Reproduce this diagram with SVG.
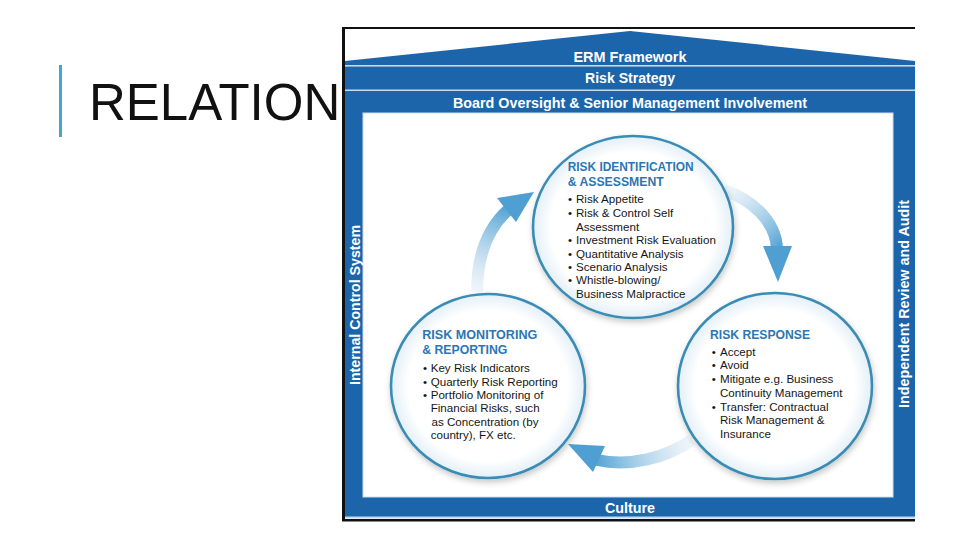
<svg xmlns="http://www.w3.org/2000/svg" width="960" height="540" viewBox="0 0 960 540">
  <style>
    .band { font-family: "Liberation Sans", Arial, sans-serif; font-weight: bold; font-size: 14px; fill: #ffffff; text-anchor: middle; }
    .head { font-family: "Liberation Sans", Arial, sans-serif; font-weight: bold; font-size: 12.5px; fill: #2b76b4; }
    .body { font-family: "Liberation Sans", Arial, sans-serif; font-size: 11.6px; fill: #151515; }
    .circle { fill: url(#cfill); stroke: #3a8cb4; stroke-width: 2.6; filter: url(#shadow); }
    .sep { fill: #c4dcf0; }
  </style>
  <defs>
    <radialGradient id="cfill" cx="0.5" cy="0.5" r="0.5">
      <stop offset="0.82" stop-color="#ffffff"/>
      <stop offset="1" stop-color="#e3eff7"/>
    </radialGradient>
    <filter id="shadow" x="-20%" y="-20%" width="140%" height="140%">
      <feDropShadow dx="1" dy="3" stdDeviation="3" flood-color="#000000" flood-opacity="0.22"/>
    </filter>
    <linearGradient id="g1" gradientUnits="userSpaceOnUse" x1="477" y1="292" x2="506" y2="210">
      <stop offset="0" stop-color="#dbe9f4" stop-opacity="0.4"/>
      <stop offset="1" stop-color="#5aa6d6"/>
    </linearGradient>
    <linearGradient id="g2" gradientUnits="userSpaceOnUse" x1="724" y1="190" x2="777" y2="247">
      <stop offset="0" stop-color="#dbe9f4" stop-opacity="0.4"/>
      <stop offset="1" stop-color="#5aa6d6"/>
    </linearGradient>
    <linearGradient id="g3" gradientUnits="userSpaceOnUse" x1="692" y1="440" x2="598" y2="459">
      <stop offset="0" stop-color="#dbe9f4" stop-opacity="0.4"/>
      <stop offset="1" stop-color="#5aa6d6"/>
    </linearGradient>
  </defs>

  <rect x="0" y="0" width="960" height="540" fill="#ffffff"/>

  <!-- slide title -->
  <g id="title">
    <rect x="59" y="65" width="3" height="72" fill="#41a6d4"/>
    <text x="89" y="120" font-family="'Liberation Sans', Arial, sans-serif" font-size="51" fill="#111111">RELATION</text>
  </g>

  <!-- frame -->
  <g id="frame">
    <rect x="342" y="27" width="573" height="2" fill="#111111"/>
    <rect x="342" y="27" width="3" height="494" fill="#111111"/>
    <rect x="342" y="519" width="573" height="2.5" fill="#111111"/>
    <polygon points="345,61 630,31 915,61 915,65 345,65" fill="#1c65ab"/>
    <rect class="sep" x="345" y="65" width="570" height="1.5"/>
    <rect x="345" y="66.5" width="570" height="450.5" fill="#1c65ab"/>
    <rect class="sep" x="345" y="89.5" width="570" height="1.5"/>
    <rect class="sep" x="345" y="516.5" width="570" height="2"/>
    <rect x="363" y="113" width="530" height="384" fill="#ffffff" stroke="#c9def0" stroke-width="1"/>
  </g>

  <g id="erm-framework"><text class="band" x="630" y="62" textLength="113" lengthAdjust="spacingAndGlyphs">ERM Framework</text></g>
  <g id="risk-strategy"><text class="band" x="630" y="83" textLength="90" lengthAdjust="spacingAndGlyphs">Risk Strategy</text></g>
  <g id="board-oversight"><text class="band" x="630" y="108" textLength="354" lengthAdjust="spacingAndGlyphs">Board Oversight &amp; Senior Management Involvement</text></g>
  <g id="culture"><text class="band" x="630" y="513" textLength="50" lengthAdjust="spacingAndGlyphs">Culture</text></g>
  <g id="internal-control"><text class="band" transform="translate(360,305) rotate(-90)" x="0" y="0" textLength="160" lengthAdjust="spacingAndGlyphs">Internal Control System</text></g>
  <g id="independent-review"><text class="band" transform="translate(909,304) rotate(-90)" x="0" y="0" textLength="208" lengthAdjust="spacingAndGlyphs">Independent Review and Audit</text></g>

  <!-- connectors -->
  <g id="connectors">
    <path d="M 477 292 C 477 260 486 230 508 210" fill="none" stroke="url(#g1)" stroke-width="12"/>
    <polygon points="534,192 497,198 516,222" fill="#4f9fd2"/>
    <path d="M 724 190 C 752 200 775 220 777 248" fill="none" stroke="url(#g2)" stroke-width="12"/>
    <polygon points="778,282 763,246 792,246" fill="#4f9fd2"/>
    <path d="M 692 440 C 666 458 630 467 597 460" fill="none" stroke="url(#g3)" stroke-width="12"/>
    <polygon points="568,444 605,446 593,472" fill="#4f9fd2"/>
  </g>

  <!-- nodes -->
  <g id="risk-identification">
    <ellipse class="circle" cx="633" cy="227" rx="100" ry="91"/>
    <text class="head" x="567.7" y="170.7" textLength="126" lengthAdjust="spacingAndGlyphs">RISK IDENTIFICATION</text>
    <text class="head" x="567.7" y="186" textLength="96" lengthAdjust="spacingAndGlyphs">&amp; ASSESSMENT</text>
    <text class="body" x="568" y="203.3">•</text><text class="body" x="576" y="203.3">Risk Appetite</text>
    <text class="body" x="568" y="217.3">•</text><text class="body" x="576" y="217.3">Risk &amp; Control Self</text>
    <text class="body" x="576" y="230.6">Assessment</text>
    <text class="body" x="568" y="244">•</text><text class="body" x="576" y="244">Investment Risk Evaluation</text>
    <text class="body" x="568" y="257.7">•</text><text class="body" x="576" y="257.7">Quantitative Analysis</text>
    <text class="body" x="568" y="270.9">•</text><text class="body" x="576" y="270.9">Scenario Analysis</text>
    <text class="body" x="568" y="284.3">•</text><text class="body" x="576" y="284.3">Whistle-blowing/</text>
    <text class="body" x="576" y="298">Business Malpractice</text>
  </g>

  <g id="risk-monitoring">
    <ellipse class="circle" cx="488" cy="386" rx="97" ry="92"/>
    <text class="head" x="422.3" y="339" textLength="115" lengthAdjust="spacingAndGlyphs">RISK MONITORING</text>
    <text class="head" x="422.3" y="354" textLength="85" lengthAdjust="spacingAndGlyphs">&amp; REPORTING</text>
    <text class="body" x="423" y="372.3">•</text><text class="body" x="430.7" y="372.3">Key Risk Indicators</text>
    <text class="body" x="423" y="385.7">•</text><text class="body" x="430.7" y="385.7">Quarterly Risk Reporting</text>
    <text class="body" x="423" y="399">•</text><text class="body" x="430.7" y="399">Portfolio Monitoring of</text>
    <text class="body" x="430.7" y="412.3">Financial Risks, such</text>
    <text class="body" x="431.5" y="425.7">as Concentration (by</text>
    <text class="body" x="430.7" y="439">country), FX etc.</text>
  </g>

  <g id="risk-response">
    <ellipse class="circle" cx="775" cy="386" rx="97" ry="93"/>
    <text class="head" x="710" y="339.3" textLength="100" lengthAdjust="spacingAndGlyphs">RISK RESPONSE</text>
    <text class="body" x="711.7" y="355.7">•</text><text class="body" x="720" y="355.7">Accept</text>
    <text class="body" x="711.7" y="369.3">•</text><text class="body" x="720" y="369.3">Avoid</text>
    <text class="body" x="711.7" y="383.3">•</text><text class="body" x="720" y="383.3">Mitigate e.g. Business</text>
    <text class="body" x="720" y="396.7">Continuity Management</text>
    <text class="body" x="711.7" y="410.7">•</text><text class="body" x="720" y="410.7">Transfer: Contractual</text>
    <text class="body" x="720" y="424">Risk Management &amp;</text>
    <text class="body" x="720" y="437.7">Insurance</text>
  </g>
</svg>
